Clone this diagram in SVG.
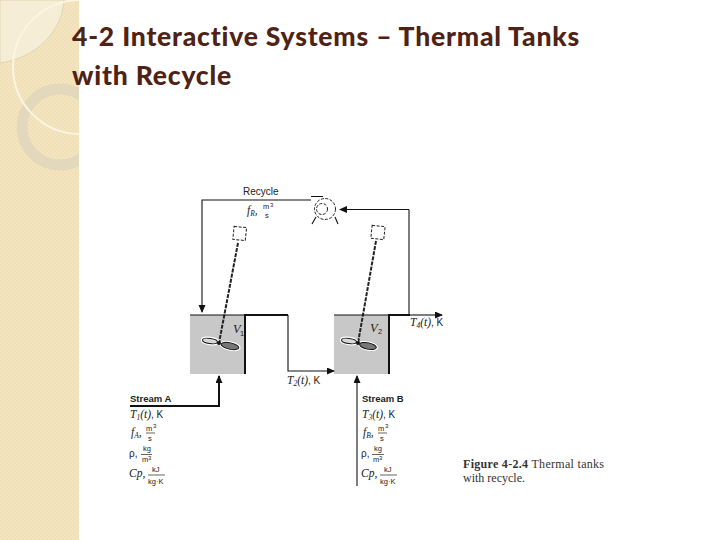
<svg xmlns="http://www.w3.org/2000/svg" width="720" height="540" viewBox="0 0 720 540">
<style>
.t{font-family:"Liberation Sans",Arial,sans-serif;font-size:10px;fill:#222}
.b{font-weight:bold;font-size:9.5px}
.m{font-family:"Liberation Serif","Times New Roman",serif;font-style:italic;font-size:11.5px;fill:#222}
.u{font-size:7.5px}
.v{font-size:12.5px}
.s{font-family:"Liberation Sans",Arial,sans-serif;font-size:7.5px;fill:#222}
.e{font-size:6px}
.l{fill:none;stroke:#111;stroke-width:1.1}
.f{fill:none;stroke:#222;stroke-width:.7}
.h{fill:none;stroke:#111;stroke-width:2}
.d{fill:none;stroke:#222;stroke-width:1;stroke-dasharray:3 1.5}
.sh{fill:none;stroke:#222;stroke-width:2;stroke-dasharray:4 1.2}
.title{font-family:"Lato","Liberation Sans",sans-serif;font-weight:900;font-size:26.500px;fill:#4f2216;letter-spacing:.8px}
.tank{fill:#c8c8c8}
.fig{font-family:"Liberation Serif","Times New Roman",serif;font-size:12px;fill:#333}
.halo{fill:#fff;stroke:#fff;stroke-width:2.4}
.bl1{fill:#d8d8d8;stroke:#111;stroke-width:1}
.bl2{fill:#777;stroke:#111;stroke-width:1}
</style>
<defs>
<pattern id="dots" width="4" height="4" patternUnits="userSpaceOnUse"><rect width="4" height="4" fill="#f4e5c2"/><rect width="2" height="2" fill="#f1e0b6"/><rect x="2" y="2" width="2" height="2" fill="#f1e0b6"/></pattern>
<clipPath id="side"><rect width="79" height="540"/></clipPath>
<marker id="a" markerWidth="8" markerHeight="8" refX="7" refY="3.5" orient="auto" markerUnits="userSpaceOnUse"><path d="M0 0L8 3.5L0 7Z" fill="#111"/></marker>
</defs>
<g id="sidebar">
<rect width="79" height="540" fill="url(#dots)"/>
<g clip-path="url(#side)">
<path d="M0 0H64C62 32 36 58 0 63Z" fill="#f6edd6" stroke="#d8cba8" stroke-width=".7"/>
<circle cx="60" cy="127" r="38" fill="none" stroke="#e3d8bb" stroke-width="11"/>
<circle cx="80" cy="67" r="67" fill="none" stroke="#fbf5e3" stroke-width="2"/>
</g>
</g>
<g id="title">
<text class="title" x="72" y="46">4-2 Interactive Systems – Thermal Tanks</text>
<text class="title" x="72" y="85">with Recycle</text>
</g>
<g id="tank1"><rect class="tank" x="190" y="315" width="55" height="59"/><text class="m v" x="233" y="333">V</text><text class="s" x="240" y="336">1</text></g>
<g id="tank2"><rect class="tank" x="334" y="315" width="55" height="59"/><text class="m v" x="370" y="332">V</text><text class="s" x="378" y="334">2</text></g>
<g id="mixer1">
<rect class="d" x="233.500" y="227" width="12.500" height="13" transform="rotate(6 240 233)"/>
<path class="sh" d="M238 243L219 343"/>
<ellipse class="halo" cx="210" cy="341" rx="8" ry="3" transform="rotate(8 210 341)"/><ellipse class="halo" cx="230" cy="346" rx="9.500" ry="3.500" transform="rotate(12 230 346)"/>
<ellipse class="bl1" cx="210" cy="341" rx="7.500" ry="2.600" transform="rotate(8 210 341)"/><ellipse class="bl2" cx="230" cy="346" rx="9" ry="3.200" transform="rotate(12 230 346)"/>
<circle cx="219" cy="343" r="2" fill="#111"/>
</g>
<g id="mixer2">
<rect class="d" x="371.500" y="226" width="13" height="13" transform="rotate(6 378 232)"/>
<path class="sh" d="M376 241L358 343"/>
<ellipse class="halo" cx="349" cy="341" rx="8" ry="3" transform="rotate(8 349 341)"/><ellipse class="halo" cx="368" cy="346" rx="9" ry="3.500" transform="rotate(12 368 346)"/>
<ellipse class="bl1" cx="349" cy="341" rx="7.500" ry="2.600" transform="rotate(8 349 341)"/><ellipse class="bl2" cx="368" cy="346" rx="8.500" ry="3.200" transform="rotate(12 368 346)"/>
<circle cx="358" cy="343" r="2" fill="#111"/>
</g>
<g id="pump">
<circle class="d" cx="325" cy="209" r="10.500"/>
<circle class="d" cx="322" cy="209" r="5.500"/>
<path class="l" d="M311 196.500H323M316 217L312 224M335 217L338 224"/>
</g>
<g id="connectors">
<path class="l" d="M311 200H202V312" marker-end="url(#a)"/>
<path class="l" d="M409 209.500H340" marker-end="url(#a)"/>
<path class="l" d="M409 209.500V315"/>
<path class="l" d="M190 315H245M334 315H389"/>
<path class="h" d="M245 374V315H288"/>
<path class="l" d="M288 315V371H334" marker-end="url(#a)"/>
<path class="h" d="M389 374V315H410"/>
<path class="l" d="M410 315H442" marker-end="url(#a)"/>
<path class="h" d="M130 406H219V376" marker-end="url(#a)"/>
<path class="l" d="M357 486V376" marker-end="url(#a)"/>
</g>
<g id="labels">
<text class="t" x="243" y="195">Recycle</text>
<text class="m" x="247" y="214">f<tspan class="u" dy="2">R</tspan><tspan dy="-2">,</tspan></text>
<text class="s" x="263" y="209">m</text><text class="s e" x="270" y="207">3</text><text class="s" x="265" y="218">s</text>
<text class="t" x="410" y="326"><tspan class="m">T</tspan><tspan class="m u" dy="2">4</tspan><tspan class="m" dy="-2">(t)</tspan>, K</text>
<text class="t" x="287" y="384"><tspan class="m">T</tspan><tspan class="m u" dy="2">2</tspan><tspan class="m" dy="-2">(t)</tspan>, K</text>
</g>
<g id="streamA">
<text class="t b" x="130" y="402">Stream A</text>
<text class="t" x="130" y="418"><tspan class="m">T</tspan><tspan class="m u" dy="2">1</tspan><tspan class="m" dy="-2">(t)</tspan>, K</text>
<text class="m" x="131" y="436">f<tspan class="u" dy="2">A</tspan><tspan dy="-2">,</tspan></text>
<text class="s" x="146" y="431">m</text><text class="s e" x="153" y="428">3</text><text class="s" x="148" y="441">s</text><path class="f" d="M146 433H155"/>
<text class="t" x="129" y="457">ρ,</text><text class="s" x="143" y="451">kg</text><path class="f" d="M141 454.500H152"/><text class="s" x="142" y="462">m</text><text class="s e" x="148" y="460">3</text>
<text class="m" x="129" y="477">Cp,</text><text class="s" x="152" y="472">kJ</text><path class="f" d="M148 475H165"/><text class="s" x="148" y="484">kg·K</text>
</g>
<g id="streamB">
<text class="t b" x="362" y="402">Stream B</text>
<text class="t" x="362" y="418"><tspan class="m">T</tspan><tspan class="m u" dy="2">3</tspan><tspan class="m" dy="-2">(t)</tspan>, K</text>
<text class="m" x="363" y="436">f<tspan class="u" dy="2">B</tspan><tspan dy="-2">,</tspan></text>
<text class="s" x="378" y="431">m</text><text class="s e" x="385" y="428">3</text><text class="s" x="380" y="441">s</text><path class="f" d="M378 433H387"/>
<text class="t" x="361" y="457">ρ,</text><text class="s" x="374" y="451">kg</text><path class="f" d="M372 454.500H384"/><text class="s" x="373" y="462">m</text><text class="s e" x="379" y="460">3</text>
<text class="m" x="361" y="477">Cp,</text><text class="s" x="384" y="472">kJ</text><path class="f" d="M380 475H397"/><text class="s" x="380" y="484">kg·K</text>
</g>
<g id="caption">
<text class="fig" x="463" y="468" letter-spacing=".3"><tspan font-weight="bold">Figure 4-2.4</tspan>  Thermal tanks</text>
<text class="fig" x="463" y="482">with recycle.</text>
</g>
</svg>
